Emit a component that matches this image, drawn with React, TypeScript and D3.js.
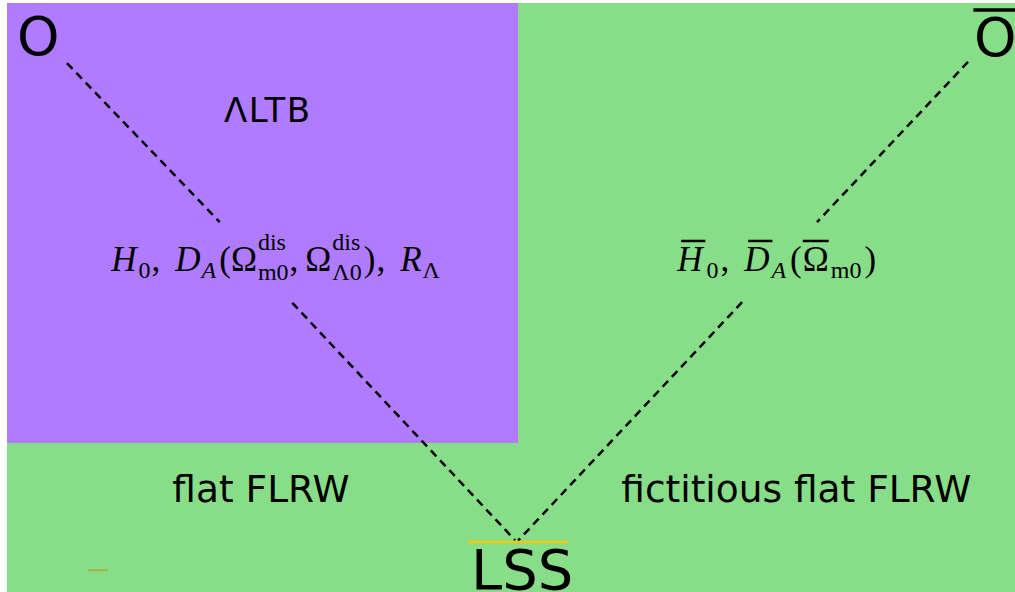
import React from "react";
import * as d3 from "d3";

const W = 1015;
const H = 592;

// normalized diagram space [0,1] x [0,1]
const regions = [
  { name: "flat FLRW", x0: 0, y0: 0, x1: 1, y1: 1, color: "#88de88" },
  { name: "ΛLTB", x0: 0, y0: 0, x1: 0.507, y1: 0.747, color: "#b07cff" },
];

const observerLines = [
  { from: [0.0595, 0.102], to: [0.211, 0.372] },
  { from: [0.283, 0.509], to: [0.504, 0.912] },
  { from: [0.9534, 0.100], to: [0.8036, 0.372] },
  { from: [0.7292, 0.508], to: [0.5069, 0.913] },
];

const regionLabels = [
  { text: "ΛLTB", x: 0.258, y: 0.202, size: 34, spacing: 1.5 },
  { text: "flat FLRW", x: 0.252, y: 0.847, size: 37.5, spacing: 0 },
  { text: "fictitious flat FLRW", x: 0.783, y: 0.847, size: 37.5, spacing: 0 },
];

const nodes = [
  { text: "O", x: 0.031, y: 0.088, size: 54, bar: false },
  { text: "O", x: 0.9805, y: 0.09, size: 54, bar: true },
  { text: "LSS", x: 0.511, y: 0.995, size: 56, bar: false },
];

const lssMark = { x0: 0.457, x1: 0.557, y: 0.915 };
const smallMark = { x0: 0.080, x1: 0.100, y: 0.963 };

type Piece = {
  t?: string;
  it?: boolean;
  sz?: number;
  dy?: number;
  gap?: number;
  bar?: boolean;
  stack?: { sup: string; sub: string };
};

const SC = 24;

const leftFormula: Piece[] = [
  { t: "H", it: true },
  { t: "0", sz: SC, dy: 7, gap: 2 },
  { t: ",", gap: 1 },
  { t: "D", it: true, gap: 15 },
  { t: "A", it: true, sz: SC, dy: 7, gap: 1 },
  { t: "(", gap: 3 },
  { t: "Ω" },
  { stack: { sup: "dis", sub: "m0" }, gap: 1 },
  { t: ",", gap: 1 },
  { t: "Ω", gap: 7 },
  { stack: { sup: "dis", sub: "Λ0" }, gap: 1 },
  { t: ")", gap: 2 },
  { t: ",", gap: 1 },
  { t: "R", it: true, gap: 15 },
  { t: "Λ", sz: SC, dy: 7, gap: 1 },
];

const rightFormula: Piece[] = [
  { t: "H", it: true, bar: true },
  { t: "0", sz: SC, dy: 7, gap: 4 },
  { t: ",", gap: 2 },
  { t: "D", it: true, bar: true, gap: 15 },
  { t: "A", it: true, sz: SC, dy: 7, gap: 2 },
  { t: "(", gap: 4 },
  { t: "Ω", bar: true, gap: 1 },
  { t: "m0", sz: SC, dy: 7, gap: 2 },
  { t: ")", gap: 3 },
];

const xs = d3.scaleLinear().domain([0, 1]).range([7, W]);
const ys = d3.scaleLinear().domain([0, 1]).range([3, H]);

const serifName = "'Liberation Serif'";
const serif = "'Liberation Serif', 'DejaVu Serif', serif";
const sans = "'DejaVu Sans', sans-serif";
const MAIN = 35;

let ctx: CanvasRenderingContext2D | null = null;
function measure(t: string, size: number, italic: boolean) {
  if (!ctx) ctx = document.createElement("canvas").getContext("2d");
  if (!ctx) return t.length * size * 0.5;
  ctx.font = `${italic ? "italic " : ""}${size}px ${serifName}, serif`;
  return ctx.measureText(t).width;
}

function Formula({ pieces, cx, y }: { pieces: Piece[]; cx: number; y: number }) {
  let x = 0;
  const items: any[] = [];
  pieces.forEach((p, i) => {
    x += p.gap || 0;
    if (p.stack) {
      const w1 = measure(p.stack.sup, SC, false);
      const w2 = measure(p.stack.sub, SC, false);
      items.push({ kind: "stack", x, p, i });
      x += Math.max(w1, w2);
    } else {
      const sz = p.sz || MAIN;
      const w = measure(p.t || "", sz, !!p.it);
      items.push({ kind: "t", x, w, p, i, sz });
      x += w;
    }
  });
  const x0 = cx - x / 2;
  return (
    <g fontFamily={serif} fill="#000">
      {items.map((it) =>
        it.kind === "stack" ? (
          <g key={it.i}>
            <text x={x0 + it.x} y={y - 21} fontSize={SC}>
              {it.p.stack.sup}
            </text>
            <text x={x0 + it.x} y={y + 9} fontSize={SC}>
              {it.p.stack.sub}
            </text>
          </g>
        ) : (
          <g key={it.i}>
            <text
              x={x0 + it.x}
              y={y + (it.p.dy || 0)}
              fontSize={it.sz}
              fontStyle={it.p.it ? "italic" : "normal"}
            >
              {it.p.t}
            </text>
            {it.p.bar && (
              <line
                x1={x0 + it.x + (it.p.it ? 4 : 0)}
                x2={x0 + it.x + it.w + (it.p.it ? 3 : 0)}
                y1={y - 30}
                y2={y - 30}
                stroke="#000"
                strokeWidth={2.5}
              />
            )}
          </g>
        )
      )}
    </g>
  );
}

export default function App() {
  const line = d3.line<number[]>().x((d) => xs(d[0])).y((d) => ys(d[1]));
  return (
    <svg
      width={W}
      height={H}
      style={{ position: "absolute", left: 0, top: 0, display: "block" }}
    >
      {regions.map((r) => (
        <rect
          key={r.name}
          x={xs(r.x0)}
          y={ys(r.y0)}
          width={xs(r.x1) - xs(r.x0)}
          height={ys(r.y1) - ys(r.y0)}
          fill={r.color}
        />
      ))}
      {observerLines.map((l, i) => (
        <path
          key={i}
          d={line([l.from, l.to]) || ""}
          stroke="#000"
          strokeWidth={2.5}
          strokeDasharray="8,5.5"
          fill="none"
        />
      ))}
      {regionLabels.map((t) => (
        <text
          key={t.text}
          x={xs(t.x) + t.spacing / 2}
          y={ys(t.y)}
          fontFamily={sans}
          fontSize={t.size}
          letterSpacing={t.spacing}
          textAnchor="middle"
          fill="#000"
        >
          {t.text}
        </text>
      ))}
      {nodes.map((n, i) => (
        <g key={i}>
          <text
            x={xs(n.x)}
            y={ys(n.y)}
            fontFamily={sans}
            fontSize={n.size}
            textAnchor="middle"
            fill="#000"
          >
            {n.text}
          </text>
          {n.bar && (
            <line
              x1={xs(n.x) - 22}
              x2={xs(n.x) + 24}
              y1={ys(n.y) - 46}
              y2={ys(n.y) - 46}
              stroke="#000"
              strokeWidth={3.5}
            />
          )}
        </g>
      ))}
      <line
        x1={xs(lssMark.x0)}
        x2={xs(lssMark.x1)}
        y1={ys(lssMark.y)}
        y2={ys(lssMark.y)}
        stroke="#f2c80f"
        strokeWidth={2.5}
      />
      <line
        x1={xs(smallMark.x0)}
        x2={xs(smallMark.x1)}
        y1={ys(smallMark.y)}
        y2={ys(smallMark.y)}
        stroke="#a8b040"
        strokeWidth={2}
      />
      <Formula pieces={leftFormula} cx={xs(0.2665)} y={ys(0.455)} />
      <Formula pieces={rightFormula} cx={xs(0.7635)} y={ys(0.455)} />
    </svg>
  );
}
